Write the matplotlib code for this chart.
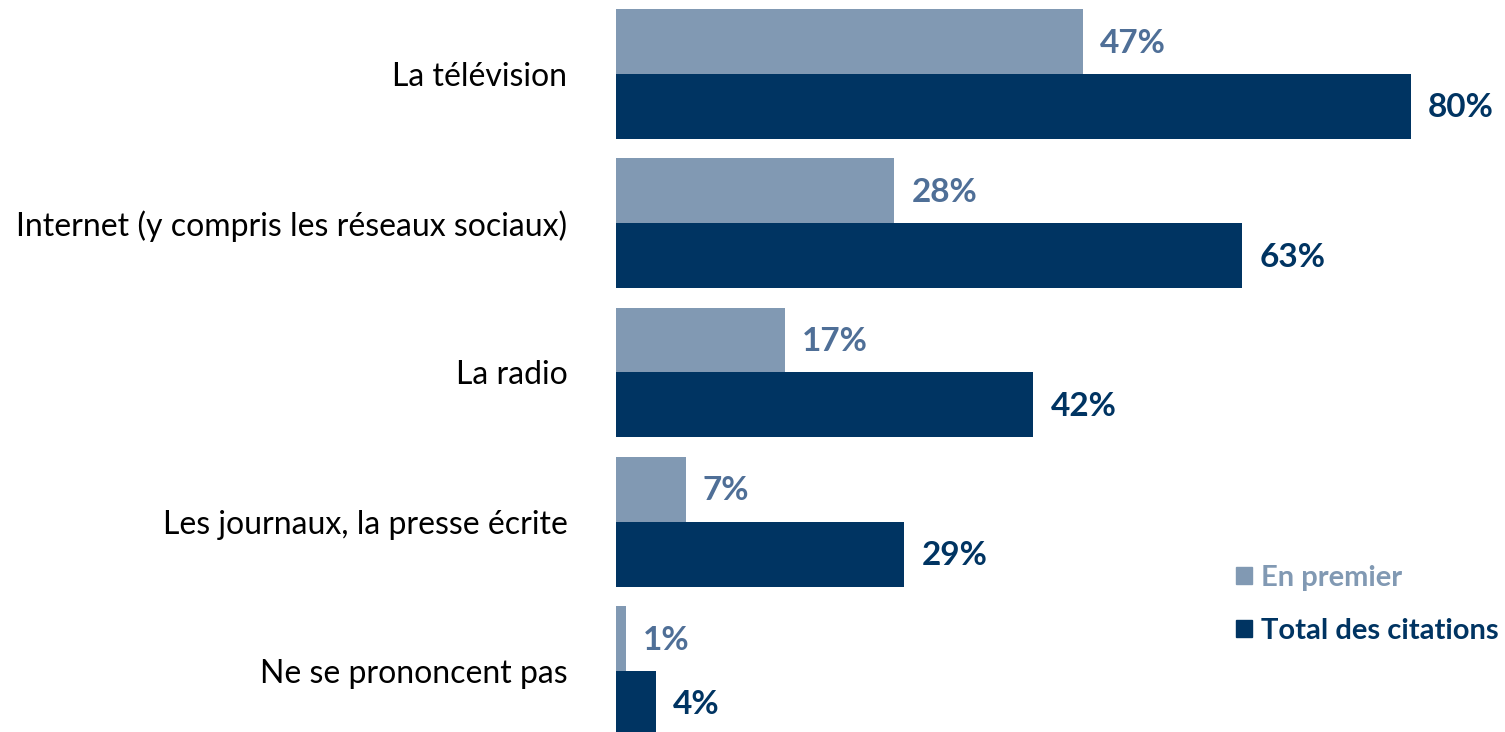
import matplotlib.pyplot as plt
from matplotlib.patches import Patch
import numpy as np

plt.rcParams['font.family'] = ['Lato', 'DejaVu Sans']

categories = ["La télévision",
              "Internet (y compris les réseaux sociaux)",
              "La radio",
              "Les journaux, la presse écrite",
              "Ne se prononcent pas"]
en_premier = [47, 28, 17, 7, 1]
total_citations = [80, 63, 42, 29, 4]
series_names = ["En premier", "Total des citations"]

light_bar = "#8199B3"
light_txt = "#4F6F97"
dark_bar = "#003462"

W, H = 1505, 732
fig = plt.figure(figsize=(W / 100, H / 100), dpi=100)
ax = fig.add_axes([616 / W, 0, 1 - 616 / W, 1])

y = np.arange(len(categories))
h = 0.435
ax.barh(y - h / 2, en_premier, height=h, color=light_bar)
ax.barh(y + h / 2, total_citations, height=h, color=dark_bar)

px = 9.94  # pixels per percent
ax.set_xlim(0, (W - 616) / px)
ax.set_ylim((H - 74) / 149.25, -74 / 149.25)

for i in range(len(categories)):
    ax.text(en_premier[i] + 17 / px, y[i] - h / 2 + 0.01, f"{en_premier[i]}%",
            color=light_txt, fontsize=24, fontweight="bold", va="center", ha="left")
    ax.text(total_citations[i] + 17 / px, y[i] + h / 2 + 0.01, f"{total_citations[i]}%",
            color=dark_bar, fontsize=24, fontweight="bold", va="center", ha="left")

ax.set_yticks(y, labels=categories, fontsize=23)
ax.tick_params(axis="y", length=0, pad=35)
ax.set_xticks([])
for s in ax.spines.values():
    s.set_visible(False)

handles = [Patch(color=light_bar), Patch(color=dark_bar)]
leg = ax.legend(handles, series_names, loc="upper left",
                bbox_to_anchor=(1236 / W, 1 - 565 / H), bbox_transform=fig.transFigure,
                frameon=False, borderpad=0, borderaxespad=0,
                handlelength=0.55, handleheight=0.55, handletextpad=0.3,
                labelspacing=0.92, prop={"size": 21, "weight": "bold"})
for t, c in zip(leg.get_texts(), [light_bar, dark_bar]):
    t.set_color(c)

fig.savefig("out.png", dpi=100)
